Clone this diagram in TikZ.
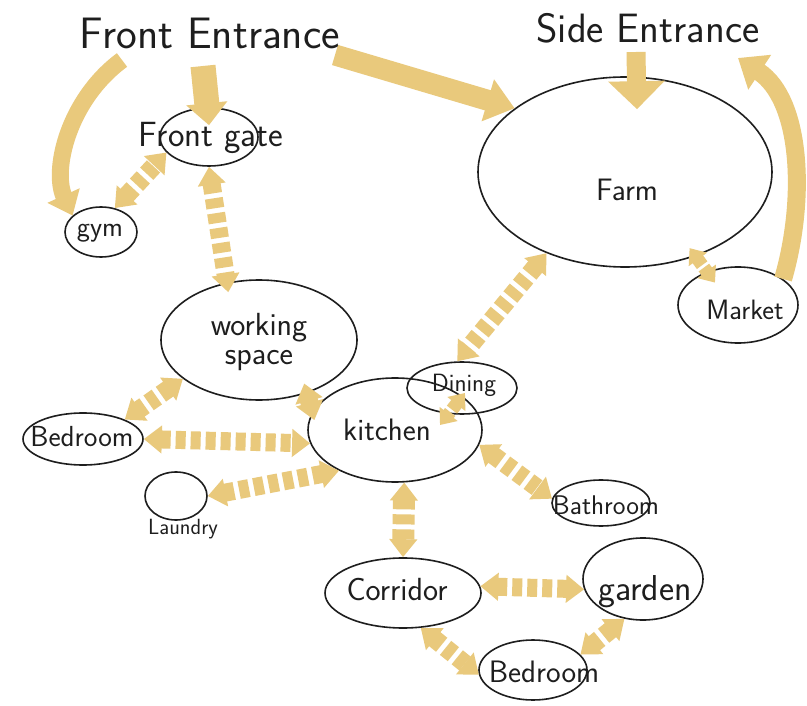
\documentclass[tikz,border=0pt]{standalone}
\usetikzlibrary{arrows.meta,shapes.geometric}
\definecolor{sand}{RGB}{233,201,124}
\definecolor{ink}{RGB}{30,30,30}
\begin{document}
\begin{tikzpicture}[x=1pt,y=-1pt,
  room/.style={draw=ink, line width=1.6pt, ellipse, inner sep=0pt},
  lbl/.style={text=ink, inner sep=0pt},
  link/.style={draw=sand, line width=18pt, dash pattern=on 10pt off 5pt,
    arrows={Triangle[width=27pt,length=18pt]-Triangle[width=27pt,length=18pt]}},
  shortlink/.style={draw=sand, line width=13pt, dash pattern=on 8pt off 3pt,
    arrows={Triangle[width=22pt,length=14pt]-Triangle[width=22pt,length=14pt]}},
  flow/.style={draw=sand, line width=18pt, arrows={-Triangle[width=40pt,length=26pt]}}
]
\fill[white] (0,0) rectangle (807,706);
\useasboundingbox (0,0) rectangle (807,706);

% rooms
\node[room, minimum width=98pt, minimum height=58pt] (gate) at (209,137) {};
\node[room, minimum width=72pt, minimum height=50pt] (gym) at (101,232) {};
\node[room, minimum width=294pt, minimum height=190pt] (farm) at (625,172) {};
\node[room, minimum width=120pt, minimum height=76pt] (market) at (738,305) {};
\node[room, minimum width=196pt, minimum height=120pt] (work) at (259,340) {};
\node[room, minimum width=120pt, minimum height=52pt] (bedL) at (83,439) {};
\node[room, minimum width=62pt, minimum height=48pt] (laundry) at (176,496) {};
\node[room, minimum width=174pt, minimum height=104pt] (kitchen) at (395,430) {};
\node[room, minimum width=110pt, minimum height=52pt] (dining) at (462,388) {};
\node[room, minimum width=98pt, minimum height=46pt] (bath) at (601,503) {};
\node[room, minimum width=156pt, minimum height=70pt] (corr) at (403,593) {};
\node[room, minimum width=120pt, minimum height=82pt] (garden) at (643,579) {};
\node[room, minimum width=108pt, minimum height=60pt] (bedB) at (533,670) {};

% free ends at the entrance words
\coordinate (feGym) at (122,60);
\coordinate (feGate) at (203,66);
\coordinate (feFarm) at (335,55);
\coordinate (seFarm) at (636,52);
\coordinate (seIn) at (738,58);

% solid flows
\draw[flow, line width=17pt, arrows={-Triangle[width=34pt,length=22pt]}]
  (feGym) .. controls (68,100) and (52,170) .. (gym.150);
\draw[flow, line width=25pt, arrows={-Triangle[width=40pt,length=22pt]}]
  (feGate) -- ([yshift=-18pt]gate.north);
\draw[flow, line width=21pt, arrows={-Triangle[width=42pt,length=28pt]}]
  (feFarm) -- (farm.150);
\draw[flow, line width=19pt, arrows={-Triangle[width=55pt,length=28pt]}]
  (seFarm) -- ([xshift=12pt,yshift=-33pt]farm.north);
\draw[flow, line width=18pt, arrows={-Triangle[width=40pt,length=26pt]}]
  (market.30) .. controls (806,200) and (802,100) .. (seIn);

% dashed two-way links
\draw[link] (gym.60) -- (gate.200);
\draw[link] (gate.south) -- ([yshift=-10pt]work.118);
\draw[link] (farm.226) -- (dining.100);
\draw[shortlink] ([xshift=-6pt,yshift=8pt]farm.310) -- ([xshift=-2pt,yshift=-14pt]market.120);
\draw[link] (work.207) -- (bedL.25);
\draw[link, shorten <=-10pt, shorten >=-8pt] (work.312) -- (kitchen.168);
\draw[link] (bedL.east) -- (kitchen.189);
\draw[link] (laundry.east) -- (kitchen.216);
\draw[shortlink] ([xshift=3pt,yshift=-5pt]dining.center) -- ([xshift=45pt,yshift=5pt]kitchen.center);
\draw[link] (kitchen.350) -- (bath.175);
\draw[link, line width=22pt] (kitchen.280) -- (corr.north);
\draw[link] (corr.5) -- (garden.190);
\draw[link] (corr.297) -- (bedB.185);
\draw[link] (garden.245) -- (bedB.18);

% labels
\node[lbl, font=\sffamily\fontsize{44}{48}\selectfont] (fetxt) at (210,33) {Front Entrance};
\node[lbl, font=\sffamily\fontsize{41}{45}\selectfont] (setxt) at (648,28) {Side Entrance};
\node[lbl, font=\sffamily\fontsize{35}{38}\selectfont] (gatet) at (211,138) {Front gate};
\node[lbl, font=\sffamily\fontsize{28}{30}\selectfont] (gymt) at (100,233) {gym};
\node[lbl, font=\sffamily\fontsize{31}{34}\selectfont] (farmt) at (627,190) {Farm};
\node[lbl, font=\sffamily\fontsize{28}{30}\selectfont] (markett) at (745,310) {Market};
\node[lbl, font=\sffamily\fontsize{32}{29}\selectfont, align=center] (workt) at (259,342) {working\\space};
\node[lbl, font=\sffamily\fontsize{29}{30}\selectfont] (bedLt) at (82,437) {Bedroom};
\node[lbl, font=\sffamily\fontsize{22}{24}\selectfont] (laundryt) at (183,529) {Laundry};
\node[lbl, font=\sffamily\fontsize{31}{34}\selectfont] (kitchent) at (387,430) {kitchen};
\node[lbl, font=\sffamily\fontsize{25}{28}\selectfont] (diningt) at (464,385) {Dining};
\node[lbl, font=\sffamily\fontsize{27}{28}\selectfont] (batht) at (606,505) {Bathroom};
\node[lbl, font=\sffamily\fontsize{32}{34}\selectfont] (corrt) at (397,590) {Corridor};
\node[lbl, font=\sffamily\fontsize{36}{38}\selectfont] (gardent) at (645,592) {garden};
\node[lbl, font=\sffamily\fontsize{31}{34}\selectfont] (bedBt) at (544,672) {Bedroom};
\end{tikzpicture}
\end{document}
